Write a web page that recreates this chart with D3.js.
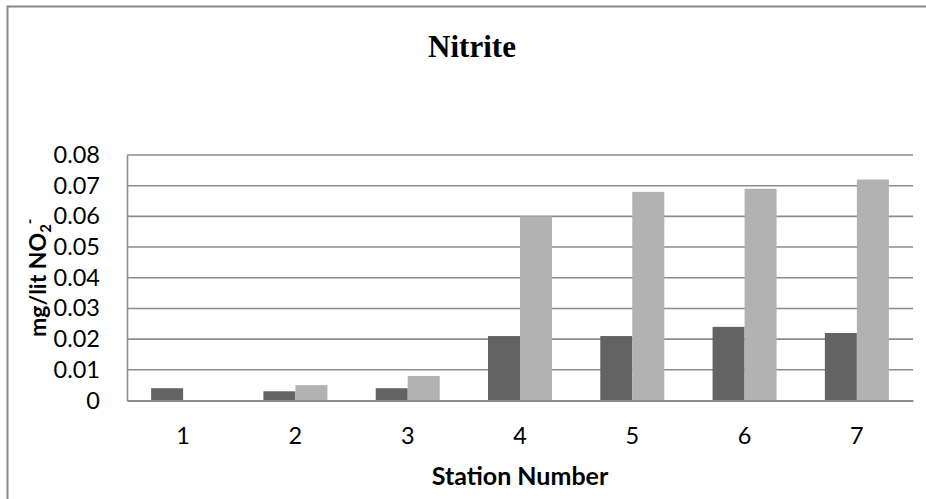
<!DOCTYPE html>
<html>
<head>
<meta charset="utf-8">
<script src="https://cdn.jsdelivr.net/npm/d3@7"></script>
<style>
  body { margin: 0; background: #fff; }
  svg { display: block; }
</style>
</head>
<body>
<div id="chart"></div>
<script>
// Data
const stations = ["1", "2", "3", "4", "5", "6", "7"];
const seriesA = [0.004, 0.003, 0.004, 0.021, 0.021, 0.024, 0.022];  // dark bars
const seriesB = [0, 0.005, 0.008, 0.060, 0.068, 0.069, 0.072];       // light bars
const yTicks = [0, 0.01, 0.02, 0.03, 0.04, 0.05, 0.06, 0.07, 0.08];

const width = 926, height = 499;
const plot = { left: 127, right: 913, top: 155, bottom: 400.5 };

const svg = d3.select("#chart").append("svg")
    .attr("width", width)
    .attr("height", height);

// outer chart frame (runs off the right and bottom edges)
svg.append("rect")
    .attr("x", 7.5).attr("y", 6.5)
    .attr("width", 1000).attr("height", 600)
    .attr("fill", "none")
    .attr("stroke", "#878787")
    .attr("stroke-width", 2);

// Title
svg.append("text")
    .attr("x", 472).attr("y", 57)
    .attr("text-anchor", "middle")
    .attr("font-family", "'Liberation Serif', 'Times New Roman', serif")
    .attr("font-weight", "bold")
    .attr("font-size", "31px")
    .text("Nitrite");

const x0 = d3.scaleBand()
    .domain(stations)
    .range([plot.left, plot.right]);

const x1 = d3.scaleBand()
    .domain(["a", "b"])
    .range([x0.bandwidth() * 0.215, x0.bandwidth() * 0.785]);

const y = d3.scaleLinear()
    .domain([0, 0.08])
    .range([plot.bottom, plot.top]);

// gridlines
svg.append("g")
    .selectAll("line")
    .data(yTicks.slice(1))
    .join("line")
    .attr("x1", plot.left).attr("x2", plot.right)
    .attr("y1", d => y(d)).attr("y2", d => y(d))
    .attr("stroke", "#8c8c8c")
    .attr("stroke-width", 1.6);

// y axis
const yAxis = svg.append("g")
    .attr("transform", `translate(${plot.left},0)`)
    .call(d3.axisLeft(y).tickValues(yTicks).tickSize(0).tickPadding(27)
        .tickFormat(d => d === 0 ? "0" : d3.format(".2f")(d)));
yAxis.select(".domain").attr("stroke", "#8c8c8c").attr("stroke-width", 1.6);
yAxis.selectAll("text")
    .attr("font-family", "Lato, 'Open Sans', sans-serif")
    .attr("font-size", "23.5px")
    .attr("fill", "#000");

// bars
const groups = svg.append("g")
    .selectAll("g")
    .data(stations)
    .join("g")
    .attr("transform", d => `translate(${x0(d)},0)`);

groups.append("rect")
    .attr("x", x1("a"))
    .attr("width", x1.bandwidth())
    .attr("y", (d, i) => y(seriesA[i]))
    .attr("height", (d, i) => y(0) - y(seriesA[i]))
    .attr("fill", "#636363");

groups.append("rect")
    .attr("x", x1("b"))
    .attr("width", x1.bandwidth())
    .attr("y", (d, i) => y(seriesB[i]))
    .attr("height", (d, i) => y(0) - y(seriesB[i]))
    .attr("fill", "#b2b2b2");

// x axis
const xAxis = svg.append("g")
    .attr("transform", `translate(0,${plot.bottom})`)
    .call(d3.axisBottom(x0).tickSize(0).tickPadding(27));
xAxis.select(".domain").attr("stroke", "#8c8c8c").attr("stroke-width", 2);
xAxis.selectAll("text")
    .attr("font-family", "Lato, 'Open Sans', sans-serif")
    .attr("font-size", "23.5px")
    .attr("fill", "#000");

// axis titles
svg.append("text")
    .attr("x", (plot.left + plot.right) / 2).attr("y", 485)
    .attr("text-anchor", "middle")
    .attr("font-family", "Lato, 'Open Sans', sans-serif")
    .attr("font-weight", "bold")
    .attr("font-size", "25px")
    .text("Station Number");

const yTitle = svg.append("text")
    .attr("transform", `translate(46,${(plot.top + plot.bottom) / 2}) rotate(-90)`)
    .attr("text-anchor", "middle")
    .attr("font-family", "Lato, 'Open Sans', sans-serif")
    .attr("font-weight", "bold")
    .attr("font-size", "23px");
yTitle.append("tspan").text("mg/lit NO");
yTitle.append("tspan").attr("font-size", "15px").attr("dy", 5).text("2");
yTitle.append("tspan").attr("font-size", "15px").attr("dy", -16).text("-");
</script>
</body>
</html>
